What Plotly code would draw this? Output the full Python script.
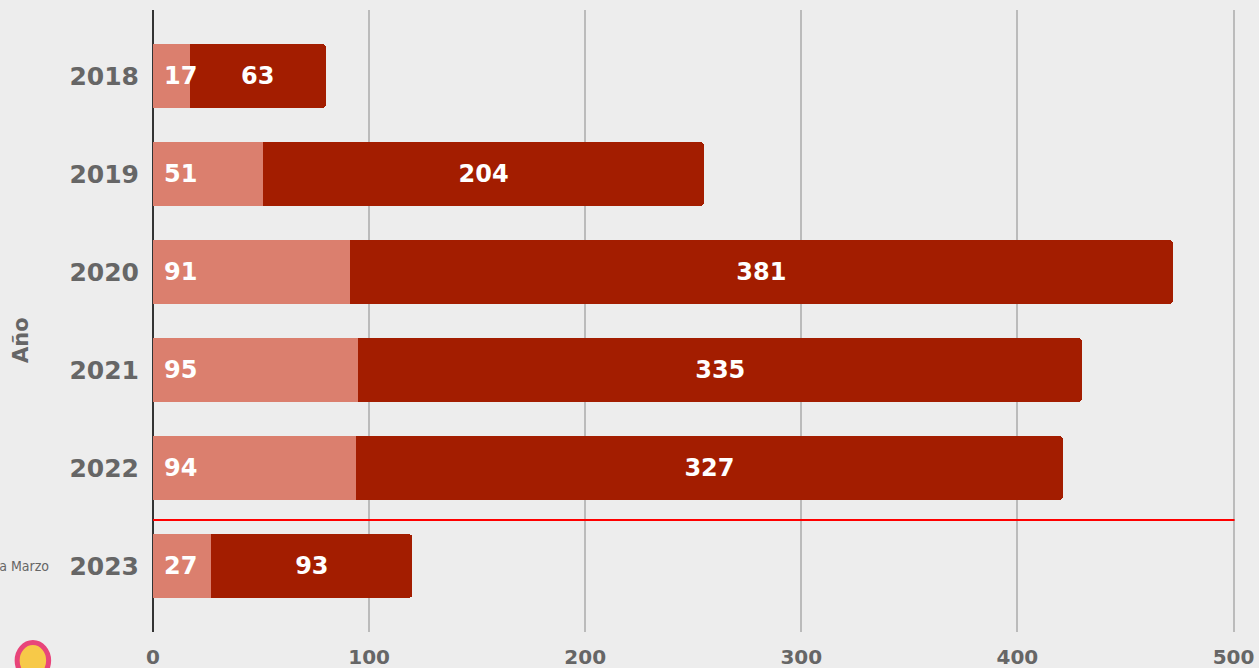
import plotly.graph_objects as go

years = ["2018", "2019", "2020", "2021", "2022", "2023"]
light_vals = [17, 51, 91, 95, 94, 27]
dark_vals = [63, 204, 381, 335, 327, 93]
x_ticks = [0, 100, 200, 300, 400, 500]

LIGHT = "#DB7F6E"
DARK = "#A31D00"
GREY = "#666666"
FONT = "DejaVu Sans"

fig = go.Figure()
fig.add_trace(go.Bar(
    y=years, x=light_vals, orientation="h", marker=dict(color=LIGHT, line=dict(width=0)),
    showlegend=False, hoverinfo="x+y"))
fig.add_trace(go.Bar(
    y=years, x=dark_vals, orientation="h", marker=dict(color=DARK, line=dict(width=0)),
    text=[str(v) for v in dark_vals], textposition="inside", insidetextanchor="middle",
    textangle=0, constraintext="none",
    textfont=dict(family=FONT, size=24, color="white", weight="bold"),
    showlegend=False, hoverinfo="x+y"))

# etiquetas del tramo claro, pegadas al inicio de la barra (eje categorico -> indice)
for i, v in enumerate(light_vals):
    fig.add_annotation(x=0, y=i, text=str(v), showarrow=False, xanchor="left", yanchor="middle",
                       xshift=9, font=dict(family=FONT, size=24, color="white", weight="bold"))

# linea que separa el año incompleto
fig.add_shape(type="line", xref="paper", yref="y", x0=0, x1=0.995, y0=4.53, y1=4.53,
              line=dict(color="#FF0000", width=2))

fig.add_annotation(text="Enero a Marzo", xref="paper", yref="y", x=-0.094, y=5,
                   xanchor="right", yanchor="middle", showarrow=False,
                   font=dict(family="DejaVu Sans Condensed", size=14, color=GREY))

fig.add_annotation(text="Año", xref="paper", yref="paper", x=-0.122, y=0.47, textangle=-90,
                   xanchor="center", yanchor="middle", showarrow=False,
                   font=dict(family=FONT, size=21, color=GREY, weight="bold"))

# logo aproximado abajo a la izquierda
fig.add_shape(type="circle", xref="paper", yref="paper", x0=-0.125, x1=-0.096, y0=-0.075, y1=-0.017,
              fillcolor="#F7C948", line=dict(color="#E8457A", width=5))

fig.update_layout(
    barmode="stack", bargap=0.35, barcornerradius=4,
    width=1259, height=668,
    paper_bgcolor="#EDEDED", plot_bgcolor="rgba(0,0,0,0)",
    margin=dict(l=153, r=19, t=10, b=36, autoexpand=False),
    font=dict(family=FONT, color=GREY),
)
fig.update_xaxes(range=[0, 503], autorange=False, automargin=False, tickvals=x_ticks,
                 showgrid=True, gridcolor="#BBBBBB", gridwidth=1.5,
                 zeroline=True, zerolinecolor="#333333", zerolinewidth=2, ticklabelstandoff=11,
                 tickfont=dict(family=FONT, size=20, color=GREY, weight="bold"))
fig.update_yaxes(categoryorder="array", categoryarray=years, autorange=False, range=[5.673, -0.673],
                 automargin=False, showgrid=False, ticklabelstandoff=13,
                 tickfont=dict(family=FONT, size=25, color=GREY, weight="bold"))

fig.write_html("out.html", config={"displayModeBar": False},
               post_script="document.body.style.margin='0';")
